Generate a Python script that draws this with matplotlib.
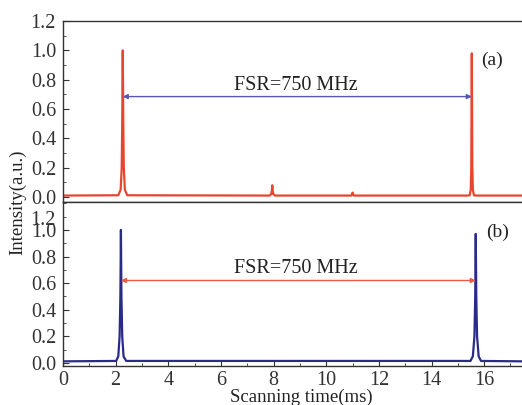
import matplotlib
matplotlib.use("Agg")
import matplotlib.pyplot as plt
from matplotlib.ticker import MultipleLocator

plt.rcParams["font.family"] = ["Liberation Serif", "DejaVu Serif"]
plt.rcParams["font.size"] = 14

# ---- data ----
# (a) red trace: baseline with two main peaks and two small ones
t_a = [0.0, 2.10, 2.19, 2.23, 2.25, 2.27, 2.29, 2.31, 2.35, 2.44,
       7.85, 7.91, 7.94, 7.95, 7.96, 7.99, 8.05,
       10.95, 10.99, 11.0, 11.01, 11.05,
       15.36, 15.45, 15.49, 15.51, 15.53, 15.55, 15.57, 15.61, 15.70, 17.5]
i_a = [0.01, 0.012, 0.05, 0.20, 0.50, 1.0, 0.50, 0.20, 0.05, 0.012,
       0.01, 0.02, 0.05, 0.08, 0.05, 0.02, 0.01,
       0.01, 0.02, 0.03, 0.02, 0.01,
       0.01, 0.012, 0.05, 0.20, 0.98, 0.20, 0.05, 0.012, 0.01, 0.01]

# (b) blue trace
t_b = [0.0, 2.02, 2.10, 2.15, 2.18, 2.20, 2.22, 2.25, 2.30, 2.40,
       15.48, 15.57, 15.63, 15.66, 15.68, 15.70, 15.73, 15.79, 15.88, 17.5]
i_b = [0.012, 0.015, 0.05, 0.20, 0.50, 1.0, 0.50, 0.20, 0.05, 0.015,
       0.015, 0.05, 0.20, 0.50, 0.97, 0.50, 0.20, 0.05, 0.015, 0.012]

fsr_a = (2.27, 15.53, 0.685)
fsr_b = (2.20, 15.68, 0.62)
fsr_text = "FSR=750 MHz"

RED = "#e8452f"
NAVY = "#2a2a88"
ARROW_BLUE = "#5656b0"
ARROW_RED = "#ec5a45"

fig = plt.figure(figsize=(5.22, 4.05), dpi=100)
ax1 = fig.add_axes([0.1207, 0.5012, 0.8850, 0.4468])
ax2 = fig.add_axes([0.1207, 0.0963, 0.8850, 0.4049])

for ax in (ax1, ax2):
    ax.set_xlim(0, 17.55)
    ax.spines["right"].set_visible(False)
    for s in ax.spines.values():
        s.set_color("#333333")
        s.set_linewidth(1.0)
    ax.xaxis.set_major_locator(MultipleLocator(2))
    ax.xaxis.set_minor_locator(MultipleLocator(1))
    ax.yaxis.set_major_locator(MultipleLocator(0.2))
    ax.yaxis.set_minor_locator(MultipleLocator(0.1))
    ax.tick_params(which="both", direction="in", top=False, right=False,
                   colors="#333333", labelcolor="#333333", labelsize=14.5)
    ax.tick_params(which="major", length=4)
    ax.tick_params(which="minor", length=2.5)
    ax.tick_params(axis="y", pad=5)
    ax.yaxis.set_major_formatter(plt.FuncFormatter(lambda v, p: f"{v:.1f}"))

# top panel
ax1.plot(t_a, i_a, color=RED, lw=1.6)
ax1.set_ylim(-0.034, 1.2)
ax1.set_yticks([0, 0.2, 0.4, 0.6, 0.8, 1.0, 1.2])
ax1.tick_params(axis="x", which="both", bottom=False, labelbottom=False)
ax1.annotate("", xy=(fsr_a[0], fsr_a[2]), xytext=(fsr_a[1], fsr_a[2]),
             arrowprops=dict(arrowstyle="<|-|>", color=ARROW_BLUE, lw=1.0,
                             mutation_scale=7, shrinkA=0, shrinkB=0))
ax1.text(8.86, 0.76, fsr_text, ha="center", va="center", color="#222222",
         fontsize=14.5)
ax1.text(16.3, 0.93, "(a)", ha="center", va="center", color="#222222")

# bottom panel
ax2.plot(t_b, i_b, color=NAVY, lw=1.6)
ax2.set_ylim(-0.023, 1.21)
ax2.set_yticks([0, 0.2, 0.4, 0.6, 0.8, 1.0])
ax2.annotate("1.2", xy=(0, 1.2), xycoords=("axes fraction", "data"),
             xytext=(-5, -12), textcoords="offset points",
             ha="right", va="center", color="#333333", fontsize=14.5)
ax2.annotate("", xy=(fsr_b[0], fsr_b[2]), xytext=(fsr_b[1], fsr_b[2]),
             arrowprops=dict(arrowstyle="<|-|>", color=ARROW_RED, lw=1.0,
                             mutation_scale=7, shrinkA=0, shrinkB=0))
ax2.text(8.86, 0.71, fsr_text, ha="center", va="center", color="#222222",
         fontsize=14.5)
ax2.text(16.5, 0.98, "(b)", ha="center", va="center", color="#222222")

fig.text(0.034, 0.5, "Intensity(a.u.)", rotation=90, ha="center", va="center",
         color="#222222", fontsize=13.5)
fig.text(0.578, 0.02, "Scanning time(ms)", ha="center", va="center",
         color="#222222", fontsize=13.5)

fig.savefig("out.png", dpi=100)
